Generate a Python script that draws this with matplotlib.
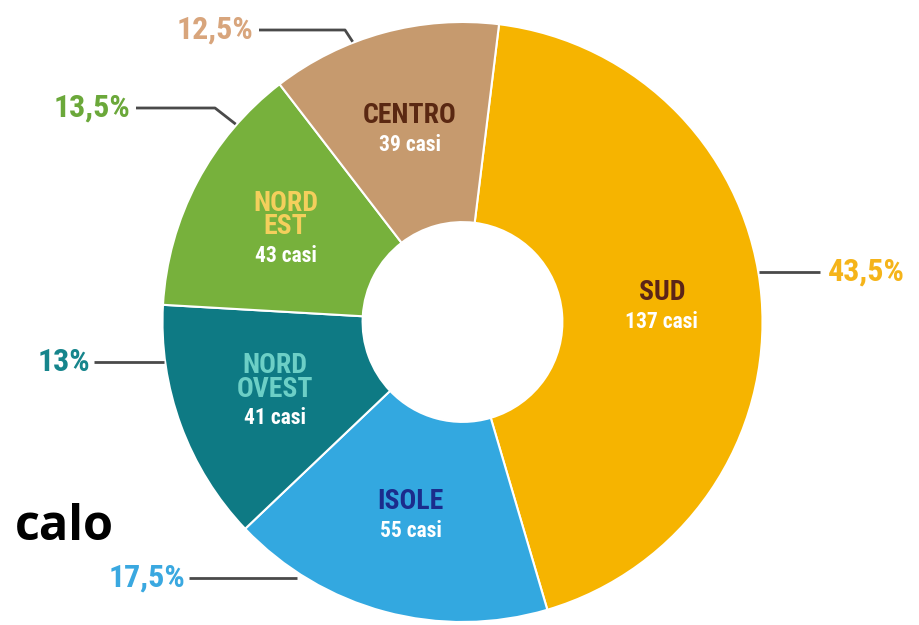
import numpy as np
import matplotlib
matplotlib.use("Agg")
import matplotlib.pyplot as plt

# data
regioni = ["SUD", "ISOLE", "NORD\nOVEST", "NORD\nEST", "CENTRO"]
casi = [137, 55, 41, 43, 39]
percentuali = ["43,5%", "17,5%", "13%", "13,5%", "12,5%"]

col_fette = ["#F6B400", "#33A8E0", "#0E7A84", "#77B13C", "#C69A6E"]
col_nomi = ["#5B2418", "#1B2C8C", "#6CCFC6", "#F4CF5C", "#5A2812"]
col_perc = ["#F5B41A", "#3AA8E0", "#16858C", "#6BA83A", "#D8A57C"]

plt.rcParams['font.family'] = ['Roboto Condensed', 'DejaVu Sans']

W, H = 919, 625
fig = plt.figure(figsize=(W / 100, H / 100), dpi=100)
ax = fig.add_axes([0, 0, 1, 1])

cx, cy, R = 462.5, H - 322, 300
wedges, _ = ax.pie(casi, startangle=83, counterclock=False, colors=col_fette,
                   center=(cx, cy), radius=R,
                   wedgeprops=dict(width=R * 0.667, edgecolor="white", linewidth=1.5))

# etichette interne
rlab = 200
lh = 23     # tra righe del nome
lc = 26     # tra nome e "casi"
for w, nome, n, cn in zip(wedges, regioni, casi, col_nomi):
    a = np.deg2rad((w.theta1 + w.theta2) / 2)
    x = cx + rlab * np.cos(a)
    y = cy + rlab * np.sin(a)
    nr = nome.count("\n") + 1
    alto = (nr - 1) * lh + lc
    y0 = y + alto / 2
    # nome (anche su due righe) ancorato alla prima riga
    ax.text(x, y0 + 14, nome, ha="center", va="top", fontsize=20,
            fontweight="bold", color=cn, linespacing=0.82)
    ax.text(x, y0 - alto - 3, f"{n} casi", ha="center", va="center",
            fontsize=15.5, fontweight="bold", color="white")

# percentuali con linee di richiamo (angolo di aggancio, testo, gomito)
layout = [
    (9.4, (828, 272), "left", None),
    (236.7, (185, 578), "right", None),
    (187.7, (90, 362), "right", None),
    (138.9, (130, 108), "right", 215),
    (111.4, (253, 30), "right", 345),
]
for (ang, (tx, ty), ha, ex), p, c in zip(layout, percentuali, col_perc):
    a = np.deg2rad(ang)
    axp = cx + (R + 1) * np.cos(a)
    ayp = cy + (R + 1) * np.sin(a)
    ty = H - ty
    if ha == "left":
        xs, ys = [tx - 8, axp], [ty, ty]
    elif ex is None:
        xs, ys = [tx + 4, axp], [ty, ty]
    else:
        xs, ys = [tx + 6, ex, axp], [ty, ty, ayp]
    ax.plot(xs, ys, color="#4A4A4A", lw=2, solid_capstyle="butt")
    ax.text(tx, ty, p, ha=ha, va="center", fontsize=23, fontweight="bold", color=c)

ax.text(15, H - 528, "calo", ha="left", va="center", fontsize=35,
        fontweight="bold", color="black", family=["Open Sans", "DejaVu Sans"])

ax.set_xlim(0, W)
ax.set_ylim(0, H)
ax.set_aspect("equal")
ax.axis("off")

fig.savefig("out.png", dpi=100)
